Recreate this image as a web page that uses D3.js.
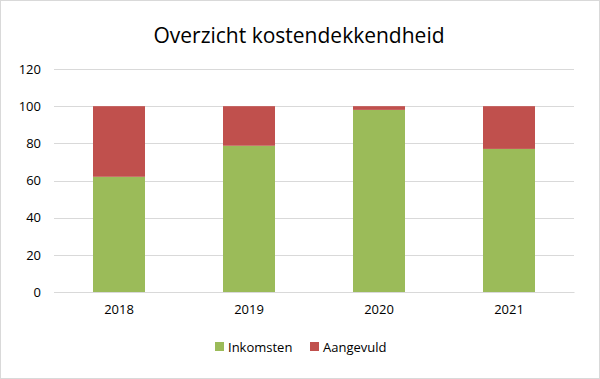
<!DOCTYPE html>
<html><head><meta charset="utf-8">
<script src="https://cdn.jsdelivr.net/npm/d3@7"></script>
<style>body{margin:0;background:#fff}svg{display:block}text{font-family:"Open Sans","Noto Sans",sans-serif;fill:#000}</style>
</head><body><svg id="c" width="600" height="379"></svg>
<script>
const years = ["2018","2019","2020","2021"];
const inkomsten = [62, 78.7, 98, 77];
const aangevuld = [38, 21.3, 2, 23];
const yTicks = [0,20,40,60,80,100,120];
const seriesNames = ["Inkomsten","Aangevuld"];
const colors = ["#9BBB59","#C0504D"];

const svg = d3.select("#c");
svg.append("rect").attr("x",0.5).attr("y",0.5).attr("width",599).attr("height",378).attr("fill","#fff").attr("stroke","#D9D9D9");

const x = d3.scaleBand().domain(years).range([54,574]).paddingInner(0.6).paddingOuter(0.3);
const y = d3.scaleLinear().domain([0,120]).range([292,69]);

svg.append("text").attr("x",299).attr("y",43).attr("text-anchor","middle").style("font-size","21px").text("Overzicht kostendekkendheid");

const grid = svg.append("g");
grid.selectAll("line").data(yTicks).join("line")
  .attr("x1",54).attr("x2",574).attr("y1",d=>Math.round(y(d))+0.5).attr("y2",d=>Math.round(y(d))+0.5)
  .attr("stroke","#D9D9D9").attr("stroke-width",1);

const yAxis = d3.axisLeft(y).tickValues(yTicks).tickSize(0).tickPadding(0);
const ya = svg.append("g").attr("transform","translate(41,0)").call(yAxis);
ya.select(".domain").remove();
ya.selectAll("text").style("font-size","13px").attr("fill","#000").style("font-family","'Open Sans',sans-serif");

const data = years.map((yr,i)=>({year:yr, Inkomsten:inkomsten[i], Aangevuld:aangevuld[i]}));
const stacked = d3.stack().keys(seriesNames)(data);
svg.append("g").selectAll("g").data(stacked).join("g").attr("fill",(d,i)=>colors[i])
  .selectAll("rect").data(d=>d).join("rect")
  .attr("x",d=>x(d.data.year)).attr("width",x.bandwidth())
  .attr("y",d=>y(d[1])).attr("height",d=>y(d[0])-y(d[1]));

const xAxis = d3.axisBottom(x).tickSize(0).tickPadding(13);
const xa = svg.append("g").attr("transform","translate(0,292)").call(xAxis);
xa.select(".domain").attr("stroke","#D9D9D9");
xa.selectAll("text").style("font-size","13px").attr("fill","#000").style("font-family","'Open Sans',sans-serif");

const legX = [215, 310];
const leg = svg.append("g").selectAll("g").data(seriesNames).join("g")
  .attr("transform",(d,i)=>`translate(${legX[i]},342)`);
leg.append("rect").attr("width",9).attr("height",9).attr("fill",(d,i)=>colors[i]);
leg.append("text").attr("x",13).attr("y",9.5).style("font-size","13px").text(d=>d);
</script></body></html>
